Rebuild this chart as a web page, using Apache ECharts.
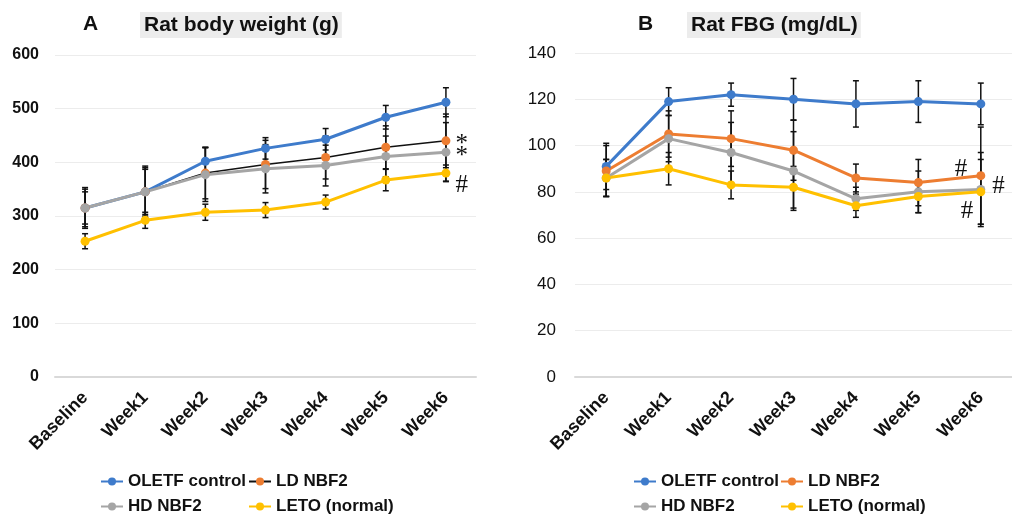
<!DOCTYPE html>
<html>
<head>
<meta charset="utf-8">
<script src="https://cdn.jsdelivr.net/npm/echarts@6/dist/echarts.min.js"></script>
<style>
  html, body { margin: 0; padding: 0; background: #fff; }
  #wrap { position: relative; width: 1012px; height: 521px; overflow: hidden; }
  #chartA { position: absolute; left: 0; top: 0; width: 506px; height: 521px; }
  #chartB { position: absolute; left: 506px; top: 0; width: 506px; height: 521px; }
</style>
</head>
<body>
<div id="wrap">
  <div id="chartA"></div>
  <div id="chartB"></div>
</div>
<script>
// x categories
const weeks = ['Baseline', 'Week1', 'Week2', 'Week3', 'Week4', 'Week5', 'Week6'];
const groupNames = ['OLETF control', 'LD NBF2', 'HD NBF2', 'LETO (normal)'];
const groupColors = ['#3e7bcb', '#ed7d31', '#a5a5a5', '#ffc000'];

// panel A: body weight (g), mean and error
const bwOletf = [315, 345, 402, 426, 443, 484, 512];
const bwOletfErr = [38, 48, 26, 20, 20, 22, 27];
const bwLd = [315, 345, 380, 396, 409, 428, 440];
const bwLdErr = [35, 45, 48, 45, 40, 40, 50];
const bwHd = [315, 345, 377, 388, 394, 411, 419];
const bwHdErr = [30, 42, 50, 45, 38, 38, 55];
const bwLeto = [253, 292, 307, 311, 326, 367, 380];
const bwLetoErr = [14, 15, 15, 14, 13, 20, 15];
const bwMarks = ['', '*', '*', '#'];   // significance marks on Week6

// panel B: FBG (mg/dL), mean and error
const fbgOletf = [91, 119, 122, 120, 118, 119, 118];
const fbgOletfErr = [10, 6, 5, 9, 10, 9, 9];
const fbgLd = [89, 105, 103, 98, 86, 84, 87];
const fbgLdErr = [11, 10, 12, 13, 6, 10, 21];
const fbgHd = [86, 103, 97, 89, 77, 80, 81];
const fbgHdErr = [8, 10, 13, 17, 5, 9, 16];
const fbgLeto = [86, 90, 83, 82, 74, 78, 80];
const fbgLetoErr = [8, 7, 6, 9, 5, 7, 14];
const fbgMarks = ['', '#', '#', '#'];

const FONT = '"Liberation Sans", Arial, sans-serif';

// black error bars with caps, drawn through the chart's own scales
function errorBars(vals, errs) {
  return {
    type: 'custom',
    silent: true,
    z: 1,
    data: vals.map((v, i) => [i, v, errs[i]]),
    encode: { x: 0, y: 1 },
    renderItem: function (params, api) {
      const i = api.value(0);
      const v = api.value(1);
      const e = api.value(2);
      const top = api.coord([i, v + e]);
      const bot = api.coord([i, v - e]);
      const st = { stroke: '#111', lineWidth: 1.5 };
      const cap = 3;
      return {
        type: 'group',
        children: [
          { type: 'line', shape: { x1: top[0], y1: top[1], x2: bot[0], y2: bot[1] }, style: st },
          { type: 'line', shape: { x1: top[0] - cap, y1: top[1], x2: top[0] + cap, y2: top[1] }, style: st },
          { type: 'line', shape: { x1: bot[0] - cap, y1: bot[1], x2: bot[0] + cap, y2: bot[1] }, style: st }
        ]
      };
    }
  };
}

function lineSeries(idx, vals, mark, markLabel, lineColor, lineWidth) {
  const last = vals.length - 1;
  return {
    name: groupNames[idx],
    type: 'line',
    z: 3,
    symbol: 'circle',
    symbolSize: 9,
    itemStyle: { color: groupColors[idx] },
    lineStyle: { color: lineColor || groupColors[idx], width: lineWidth || 3 },
    data: vals.map((v, i) => {
      if (i === last && mark) {
        return {
          value: v,
          label: Object.assign({
            show: true,
            formatter: mark,
            color: '#111',
            fontFamily: '"Liberation Serif", "Times New Roman", serif',
            fontSize: 25
          }, markLabel)
        };
      }
      return v;
    })
  };
}

function makeChart(el, cfg) {
  const chart = echarts.init(el, null, { renderer: 'canvas' });
  const legends = groupNames.map((n, i) => ({
    data: [n],
    left: cfg.legendLeft[i % 2],
    top: i < 2 ? 473 : 498,
    itemWidth: 22,
    itemHeight: 10,
    itemGap: 4,
    padding: 0,
    selectedMode: false,
    textStyle: { fontFamily: FONT, fontSize: 17, fontWeight: 'bold', color: '#111' }
  }));

  const option = {
    animation: false,
    title: [
      {
        text: cfg.letter, left: cfg.letterLeft, top: 14, padding: 0,
        textStyle: { fontFamily: FONT, fontSize: 21, fontWeight: 'bold', color: '#111' }
      },
      {
        text: cfg.title, left: cfg.titleLeft, top: 12, padding: [3, 3, 2, 4],
        backgroundColor: '#ececec',
        textStyle: { fontFamily: FONT, fontSize: 21, fontWeight: 'bold', color: '#111' }
      }
    ],
    legend: legends,
    grid: cfg.grid,
    xAxis: {
      type: 'category',
      data: weeks,
      boundaryGap: true,
      axisLine: { lineStyle: { color: '#d9d9d9', width: 2 } },
      axisTick: { show: false },
      axisLabel: {
        rotate: 45, margin: 18, interval: 0,
        fontFamily: FONT, fontSize: 18, fontWeight: 'bold', color: '#111'
      }
    },
    yAxis: {
      type: 'value',
      min: 0, max: cfg.yMax, interval: cfg.yStep,
      axisLine: { show: false },
      axisTick: { show: false },
      splitLine: { lineStyle: { color: '#ececec', width: 1 } },
      axisLabel: {
        margin: cfg.yMargin, fontFamily: FONT, fontSize: cfg.yFont,
        fontWeight: cfg.yWeight, color: '#111'
      }
    },
    series: cfg.series
  };
  chart.setOption(option);
  return chart;
}

// Panel A
makeChart(document.getElementById('chartA'), {
  letter: 'A', letterLeft: 83,
  title: 'Rat body weight (g)', titleLeft: 140,
  grid: { left: 55, top: 55, width: 421, height: 322 },
  yMax: 600, yStep: 100, yMargin: 16, yFont: 16, yWeight: 'bold',
  legendLeft: [100, 248],
  series: [
    errorBars(bwOletf, bwOletfErr),
    errorBars(bwLd, bwLdErr),
    errorBars(bwHd, bwHdErr),
    errorBars(bwLeto, bwLetoErr),
    lineSeries(0, bwOletf, bwMarks[0]),
    lineSeries(1, bwLd, bwMarks[1], { position: 'right', offset: [0, 4] }, '#111', 1.5),
    lineSeries(2, bwHd, bwMarks[2], { position: 'right', offset: [0, 4] }),
    lineSeries(3, bwLeto, bwMarks[3], { position: 'right', offset: [0, 12] })
  ]
});

// Panel B
makeChart(document.getElementById('chartB'), {
  letter: 'B', letterLeft: 132,
  title: 'Rat FBG (mg/dL)', titleLeft: 181,
  grid: { left: 69, top: 53, width: 450, height: 324 },
  yMax: 140, yStep: 20, yMargin: 19, yFont: 17, yWeight: 'normal',
  legendLeft: [127, 274],
  series: [
    errorBars(fbgOletf, fbgOletfErr),
    errorBars(fbgLd, fbgLdErr),
    errorBars(fbgHd, fbgHdErr),
    errorBars(fbgLeto, fbgLetoErr),
    lineSeries(0, fbgOletf, fbgMarks[0]),
    lineSeries(1, fbgLd, fbgMarks[1], { position: 'left', offset: [-4, -6] }),
    lineSeries(2, fbgHd, fbgMarks[2], { position: 'right', offset: [2, -3] }),
    lineSeries(3, fbgLeto, fbgMarks[3], { position: 'left', offset: [2, 20] })
  ]
});
</script>
</body>
</html>
